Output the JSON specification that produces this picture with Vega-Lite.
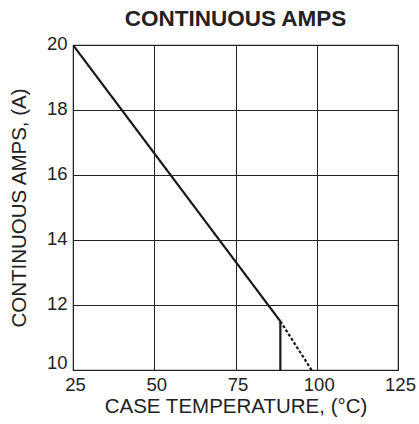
{
  "$schema": "https://vega.github.io/schema/vega-lite/v6.json",
  "width": 325,
  "height": 325,
  "autosize": {"type": "none"},
  "padding": {"left": 73, "top": 45, "right": 21, "bottom": 54},
  "background": "white",
  "title": {
    "text": "CONTINUOUS AMPS",
    "font": "Liberation Sans",
    "fontSize": 22.5,
    "fontWeight": "bold",
    "color": "#222222",
    "anchor": "middle",
    "offset": 4
  },
  "config": {
    "view": {"stroke": "#333333", "strokeWidth": 1.2},
    "axis": {
      "labelFont": "Liberation Sans",
      "titleFont": "Liberation Sans",
      "labelFontSize": 18.5,
      "titleFontSize": 20.5,
      "titleFontWeight": "normal",
      "labelColor": "#222222",
      "titleColor": "#222222",
      "ticks": false,
      "domain": false,
      "grid": true,
      "gridColor": "#222222",
      "gridOpacity": 1,
      "gridWidth": 1
    }
  },
  "data": {
    "values": [
      {"temp": 25, "amps": 20, "seg": "solid"},
      {"temp": 88.8, "amps": 11.5, "seg": "solid"},
      {"temp": 88.8, "amps": 11.5, "seg": "dashed"},
      {"temp": 98.4, "amps": 10, "seg": "dashed"},
      {"temp": 88.8, "amps": 10, "seg": "vertical"},
      {"temp": 88.8, "amps": 11.5, "seg": "vertical"}
    ]
  },
  "mark": {"type": "line", "color": "#1a1a1a", "strokeWidth": 2.2, "clip": true},
  "encoding": {
    "x": {
      "field": "temp",
      "type": "quantitative",
      "scale": {"domain": [25, 125], "nice": false},
      "axis": {
        "values": [25, 50, 75, 100, 125],
        "title": "CASE TEMPERATURE, (°C)",
        "labelPadding": 5,
        "titlePadding": 3,
        "labelFlush": false,
        "labelOffset": 2
      }
    },
    "y": {
      "field": "amps",
      "type": "quantitative",
      "scale": {"domain": [10, 20], "nice": false, "zero": false},
      "axis": {
        "values": [10, 12, 14, 16, 18, 20],
        "title": "CONTINUOUS AMPS, (A)",
        "labelPadding": 6,
        "titlePadding": 17,
        "labelFlush": false,
        "labelOffset": {"condition": {"test": "datum.value === 10", "value": -8}, "value": -2}
      }
    },
    "detail": {"field": "seg"},
    "strokeDash": {
      "field": "seg",
      "type": "nominal",
      "scale": {"domain": ["solid", "dashed", "vertical"], "range": [[1, 0], [3, 2], [1, 0]]},
      "legend": null
    }
  }
}
